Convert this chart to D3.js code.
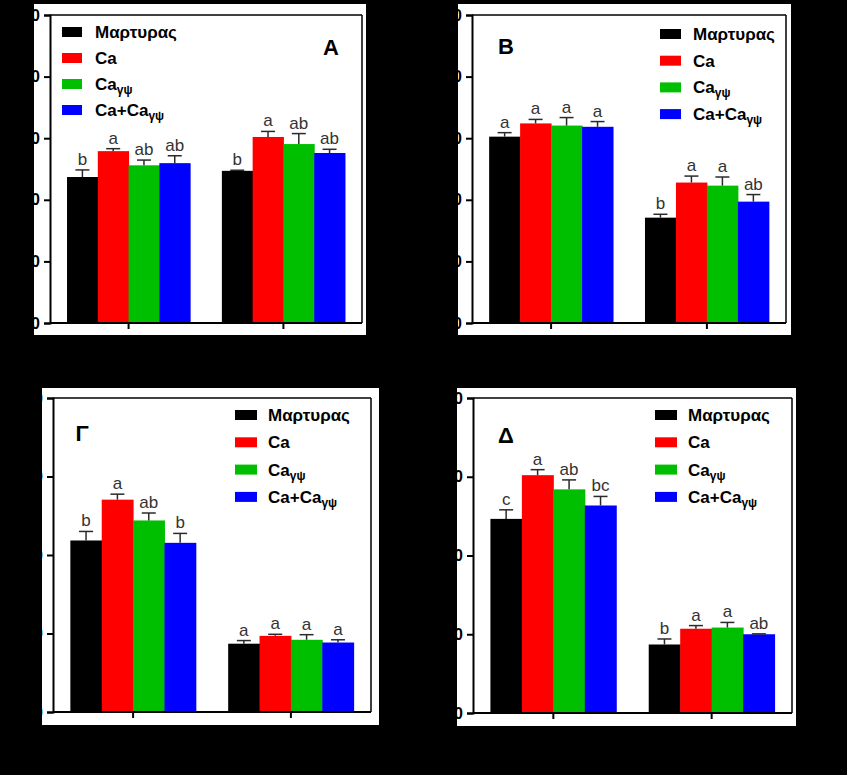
<!DOCTYPE html>
<html><head><meta charset="utf-8">
<script src="https://cdn.jsdelivr.net/npm/d3@7"></script>
<style>html,body{margin:0;padding:0;background:#000;} svg{display:block;}</style>
</head><body>
<svg id="c" width="847" height="775"></svg>
<script>
// ---- data ----
const seriesNames = ["Μαρτυρας", "Ca", "Ca", "Ca+Ca"];
const seriesSubs  = ["", "", "γψ", "γψ"];
const seriesColors = ["#000000", "#ff0000", "#00bf00", "#0000ff"];
const groups = ["g1", "g2"];
const ticksAB = [0, 20, 40, 60, 80, 100];
const ticksGD = [0, 20, 40, 60, 80];

// values: rows = groups, columns = series
const valuesA  = [[47.4, 55.8, 51.2, 51.9], [49.4, 60.4, 58.1, 55.2]];
const errorsA  = [[2.3, 0.8, 1.7, 2.4], [0.2, 1.8, 3.4, 1.2]];
const lettersA = [["b", "a", "ab", "ab"], ["b", "a", "ab", "ab"]];

const valuesB  = [[60.5, 64.8, 64.1, 63.7], [34.2, 45.6, 44.6, 39.4]];
const errorsB  = [[1.3, 1.3, 2.6, 1.7], [1.1, 2.1, 2.8, 2.3]];
const lettersB = [["a", "a", "a", "a"], ["b", "a", "a", "ab"]];

const valuesG  = [[43.7, 54.1, 48.8, 43.1], [17.4, 19.4, 18.4, 17.7]];
const errorsG  = [[2.3, 1.4, 1.9, 2.4], [0.8, 0.4, 1.3, 0.7]];
const lettersG = [["b", "a", "ab", "b"], ["a", "a", "a", "a"]];

const valuesD  = [[49.3, 60.4, 56.8, 52.7], [17.4, 21.4, 21.7, 20.0]];
const errorsD  = [[2.3, 1.4, 2.4, 2.3], [1.4, 0.8, 1.3, 0.1]];
const lettersD = [["c", "a", "ab", "bc"], ["b", "a", "a", "ab"]];

// ---- layout ----
const panels = [
  {label: "A", values: valuesA, errors: errorsA, letters: lettersA, ticks: ticksAB,
   bg: {x: 34, y: 4, w: 332, h: 331}, plot: {l: 50, r: 362, t: 15, b: 323},
   leg: {x: 62, y: 32, step: 26, sw: 20}, lab: {x: 331, y: 47}},
  {label: "B", values: valuesB, errors: errorsB, letters: lettersB, ticks: ticksAB,
   bg: {x: 458, y: 4, w: 333, h: 331}, plot: {l: 472, r: 786, t: 15, b: 323},
   leg: {x: 660, y: 34, step: 26.7, sw: 21}, lab: {x: 506, y: 46}},
  {label: "Γ", values: valuesG, errors: errorsG, letters: lettersG, ticks: ticksGD,
   bg: {x: 42, y: 388, w: 337, h: 337}, plot: {l: 53, r: 371, t: 398, b: 712},
   leg: {x: 235, y: 415, step: 27.3, sw: 22}, lab: {x: 82, y: 433}},
  {label: "Δ", values: valuesD, errors: errorsD, letters: lettersD, ticks: ticksGD,
   bg: {x: 457, y: 388, w: 339, h: 338}, plot: {l: 473, r: 792, t: 398, b: 713},
   leg: {x: 655, y: 415, step: 27.3, sw: 22}, lab: {x: 506, y: 435}}
];

const FONT = "Liberation Sans, Arial, sans-serif";
const svg = d3.select("#c");
svg.append("rect").attr("width", 847).attr("height", 775).attr("fill", "#000");

panels.forEach(p => {
  const g = svg.append("g");
  g.append("rect").attr("x", p.bg.x).attr("y", p.bg.y).attr("width", p.bg.w).attr("height", p.bg.h).attr("fill", "#fff");

  const y = d3.scaleLinear().domain([0, d3.max(p.ticks)]).range([p.plot.b, p.plot.t]);
  const x0 = d3.scaleBand().domain(groups).range([p.plot.l, p.plot.r]).paddingInner(0.205).paddingOuter(0.11);
  const x1 = d3.scaleBand().domain(d3.range(seriesNames.length)).range([0, x0.bandwidth()]);

  // bars
  groups.forEach((gr, gi) => {
    const gg = g.append("g").attr("transform", `translate(${x0(gr)},0)`);
    p.values[gi].forEach((v, si) => {
      gg.append("rect").attr("x", x1(si)).attr("width", x1.bandwidth() + 0.5)
        .attr("y", y(v)).attr("height", y(0) - y(v)).attr("fill", seriesColors[si]);
      const cx = x1(si) + x1.bandwidth() / 2;
      const top = y(v + p.errors[gi][si]);
      gg.append("line").attr("x1", cx).attr("x2", cx).attr("y1", y(v)).attr("y2", top)
        .attr("stroke", "#2a2a2a").attr("stroke-width", 1.5);
      gg.append("line").attr("x1", cx - 7).attr("x2", cx + 7).attr("y1", top).attr("y2", top)
        .attr("stroke", "#2a2a2a").attr("stroke-width", 1.5);
      gg.append("text").attr("x", cx).attr("y", top - 5).attr("text-anchor", "middle")
        .attr("font-family", FONT).attr("font-size", 17)
        .attr("fill", "#333").text(p.letters[gi][si]);
    });
  });

  // frame top/right
  g.append("line").attr("x1", p.plot.l).attr("x2", p.plot.r).attr("y1", p.plot.t).attr("y2", p.plot.t)
    .attr("stroke", "#000").attr("stroke-width", 1.5);
  g.append("line").attr("x1", p.plot.r).attr("x2", p.plot.r).attr("y1", p.plot.t).attr("y2", p.plot.b)
    .attr("stroke", "#000").attr("stroke-width", 1.5);

  // axes
  const ya = d3.axisLeft(y).tickValues(p.ticks).tickSize(6).tickPadding(4);
  const yg = g.append("g").attr("transform", `translate(${p.plot.l},0)`).call(ya);
  yg.select(".domain").attr("stroke-width", 2);
  yg.selectAll(".tick line").attr("stroke-width", 2);
  yg.selectAll("text").attr("font-family", FONT)
    .attr("font-size", 16).attr("font-weight", "bold").attr("fill", "#000");

  const xa = d3.axisBottom(x0).tickSize(6).tickFormat("");
  const xg = g.append("g").attr("transform", `translate(0,${p.plot.b})`).call(xa);
  xg.select(".domain").attr("stroke-width", 2).attr("d", `M${p.plot.l},0H${p.plot.r}`);
  xg.selectAll(".tick line").attr("stroke-width", 2);

  // legend
  seriesNames.forEach((s, si) => {
    const ly = p.leg.y + si * p.leg.step;
    g.append("rect").attr("x", p.leg.x).attr("y", ly - 5).attr("width", p.leg.sw).attr("height", 10)
      .attr("fill", seriesColors[si]);
    const t = g.append("text").attr("x", p.leg.x + 33).attr("y", ly + 6)
      .attr("font-family", FONT).attr("font-size", 17)
      .attr("font-weight", "bold").attr("fill", "#000");
    t.append("tspan").text(s);
    if (seriesSubs[si]) t.append("tspan").attr("dy", 4).attr("font-size", 12).text(seriesSubs[si]);
  });

  // panel letter
  g.append("text").attr("x", p.lab.x).attr("y", p.lab.y + 8).attr("text-anchor", "middle")
    .attr("font-family", FONT).attr("font-size", 22)
    .attr("font-weight", "bold").attr("fill", "#000").text(p.label);
});
</script>
</body></html>
